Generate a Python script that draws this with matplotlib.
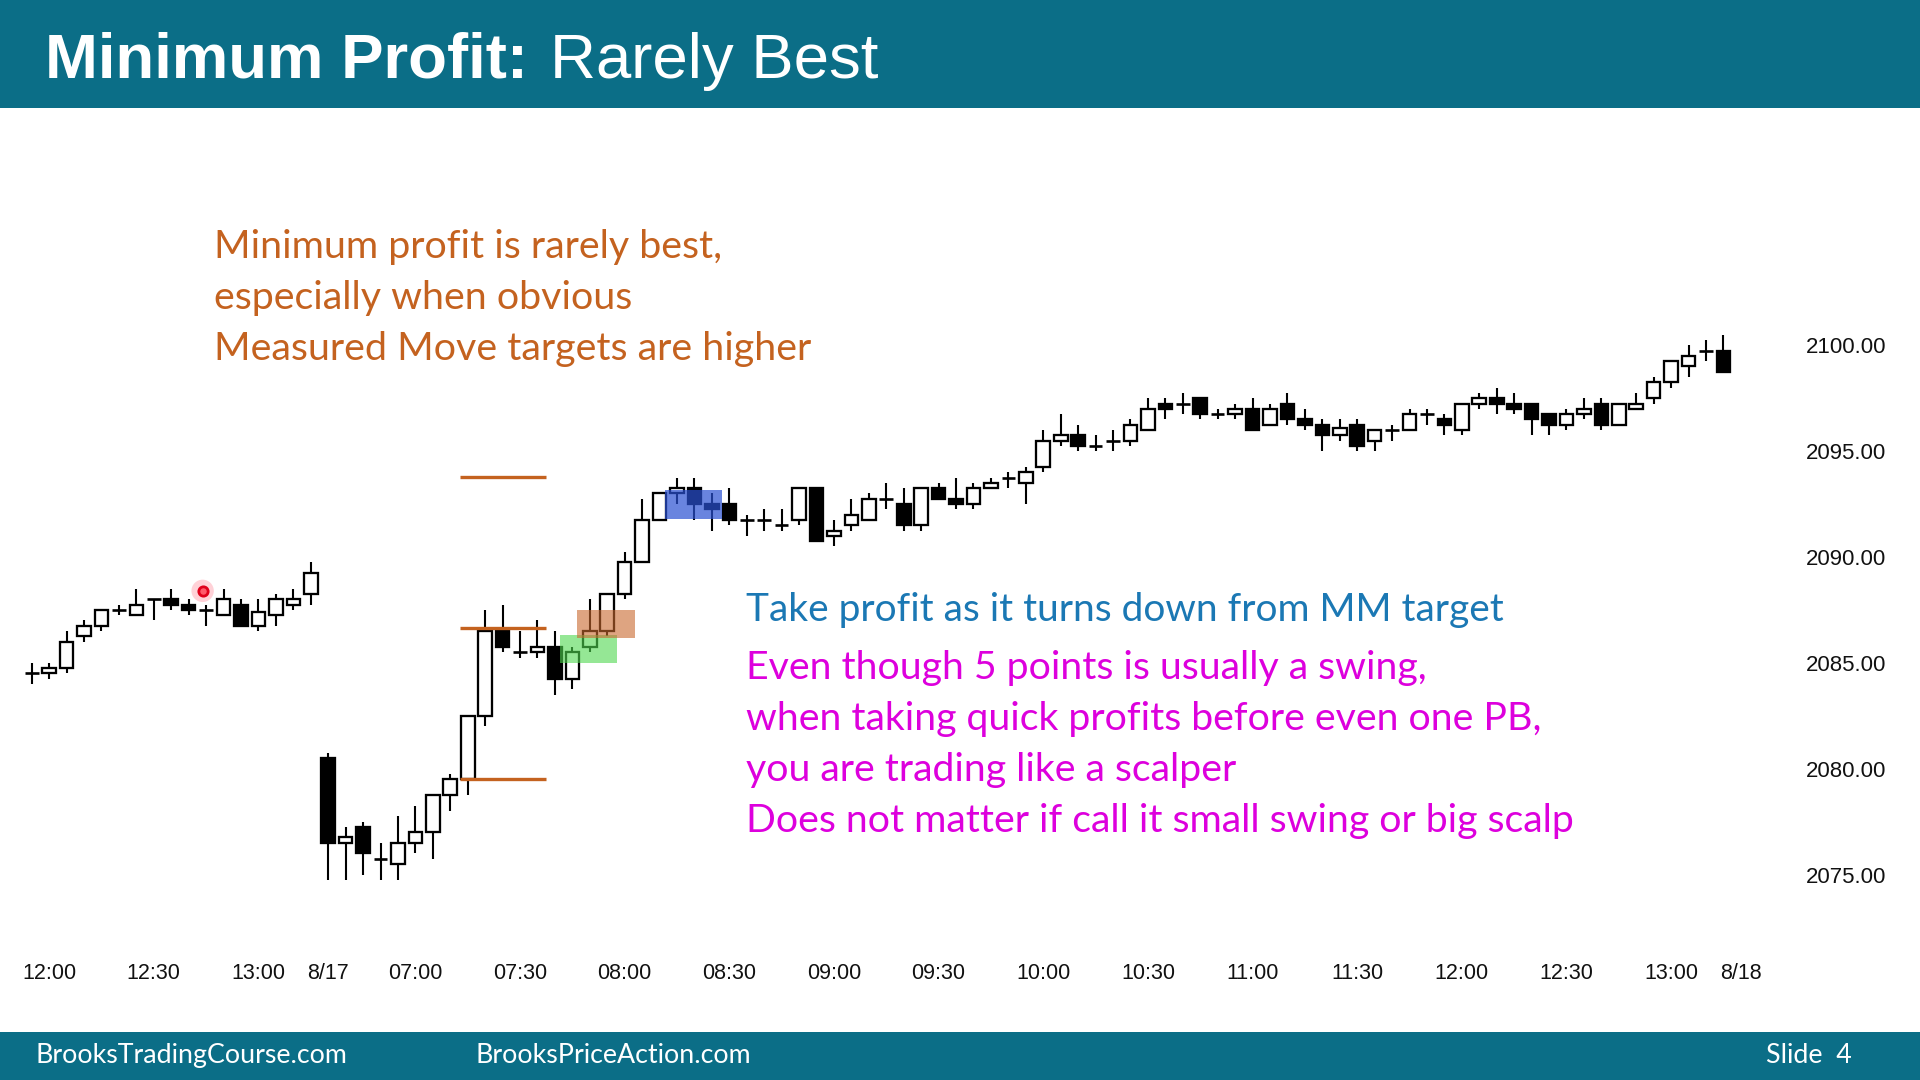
import matplotlib
matplotlib.use("Agg")
import matplotlib.pyplot as plt
from matplotlib.patches import Rectangle

# ---------------- data ----------------
# 5-minute bars: 8/16 11:55-13:15, then 8/17 06:35-13:15 (one slot per bar)
opens = [2084.5, 2084.5, 2084.75, 2086.25, 2086.75, 2087.5, 2087.25, 2088, 2088, 2087.75,
         2087.5, 2087.25, 2087.75, 2086.75, 2087.25, 2087.75, 2088.25,
         2080.5, 2076.5, 2077.25, 2075.75, 2075.5, 2076.5, 2077, 2078.75, 2079.5, 2082.5,
         2086.5, 2085.5, 2085.5, 2085.75, 2084.25, 2085.75, 2086.5, 2088.25, 2089.75, 2091.75,
         2093, 2093.25, 2092.5, 2092.5, 2091.75, 2091.75, 2091.5, 2091.75, 2093.25, 2091,
         2091.5, 2091.75, 2092.75, 2092.5, 2091.5, 2093.25, 2092.75, 2092.5, 2093.25, 2093.75,
         2093.5, 2094.25, 2095.5, 2095.75, 2095.25, 2095.5, 2095.5, 2096, 2097.25, 2097.25,
         2097.5, 2096.75, 2096.75, 2097, 2096.25, 2097.25, 2096.5, 2096.25, 2095.75, 2096.25,
         2095.5, 2096, 2096, 2096.75, 2096.5, 2096, 2097.25, 2097.5, 2097.25, 2097.25,
         2096.75, 2096.25, 2096.75, 2097.25, 2096.25, 2097, 2097.5, 2098.25, 2099, 2099.75,
         2099.75]
highs = [2085, 2085, 2086.5, 2087, 2087.5, 2087.75, 2088.5, 2088, 2088.5, 2088,
         2087.75, 2088.5, 2088, 2088, 2088.25, 2088.5, 2089.75,
         2080.75, 2077.25, 2077.5, 2076.5, 2077.75, 2078.25, 2078.75, 2079.75, 2082.5, 2087.5,
         2087.75, 2086.5, 2087, 2086.5, 2085.75, 2088, 2088.25, 2090.25, 2092.75, 2093,
         2093.75, 2093.75, 2093, 2093.25, 2092, 2092.25, 2092.25, 2093.25, 2093.25, 2091.75,
         2092.75, 2093, 2093.5, 2093.25, 2093.25, 2093.5, 2093.75, 2093.5, 2093.75, 2094,
         2094.25, 2096, 2096.75, 2096.25, 2095.75, 2096, 2096.5, 2097.5, 2097.5, 2097.75,
         2097.5, 2097, 2097.25, 2097.5, 2097.25, 2097.75, 2097, 2096.5, 2096.5, 2096.5,
         2096, 2096.25, 2097, 2097, 2096.75, 2097.25, 2097.75, 2098, 2097.75, 2097.25,
         2096.75, 2097, 2097.5, 2097.5, 2097.25, 2097.75, 2098.5, 2099.25, 2100, 2100.25,
         2100.5]
lows = [2084, 2084.25, 2084.5, 2086, 2086.5, 2087.25, 2087.25, 2087, 2087.5, 2087.25,
        2086.75, 2087.25, 2086.75, 2086.5, 2086.75, 2087.5, 2087.75,
        2074.75, 2074.75, 2075, 2074.75, 2074.75, 2076, 2075.75, 2078, 2078.75, 2082,
        2085.5, 2085.25, 2085.25, 2083.5, 2083.75, 2085.5, 2086.25, 2088, 2089.75, 2091.75,
        2092.5, 2091.75, 2091.25, 2091.5, 2091, 2091.25, 2091.25, 2091.5, 2090.75, 2090.5,
        2091.25, 2091.75, 2092.25, 2091.25, 2091.25, 2092.75, 2092.25, 2092.25, 2093.25, 2093.25,
        2092.5, 2094, 2095.25, 2095, 2095, 2095, 2095.25, 2096, 2096.5, 2096.75,
        2096.5, 2096.5, 2096.5, 2096, 2096.25, 2096.25, 2096, 2095, 2095.5, 2095,
        2095, 2095.5, 2096, 2096.25, 2095.75, 2095.75, 2097, 2096.75, 2096.75, 2095.75,
        2095.75, 2096, 2096.5, 2096, 2096.25, 2097, 2097.25, 2098, 2098.5, 2099.25,
        2098.75]
closes = [2084.5, 2084.75, 2086, 2086.75, 2087.5, 2087.5, 2087.75, 2088, 2087.75, 2087.5,
          2087.5, 2088, 2086.75, 2087.4, 2088, 2088, 2089.25,
          2076.5, 2076.75, 2076, 2075.75, 2076.5, 2077, 2078.75, 2079.5, 2082.5, 2086.5,
          2085.75, 2085.5, 2085.75, 2084.25, 2085.5, 2086.5, 2088.25, 2089.75, 2091.75, 2093,
          2093.25, 2092.5, 2092.25, 2091.75, 2091.75, 2091.75, 2091.5, 2093.25, 2090.75, 2091.25,
          2092, 2092.75, 2092.75, 2091.5, 2093.25, 2092.75, 2092.5, 2093.25, 2093.5, 2093.75,
          2094, 2095.5, 2095.75, 2095.25, 2095.25, 2095.5, 2096.25, 2097, 2097, 2097.25,
          2096.75, 2096.75, 2097, 2096, 2097, 2096.5, 2096.25, 2095.75, 2096.1, 2095.25,
          2096, 2096, 2096.75, 2096.75, 2096.25, 2097.25, 2097.5, 2097.25, 2097, 2096.5,
          2096.25, 2096.75, 2097, 2096.25, 2097.25, 2097.25, 2098.25, 2099.25, 2099.5, 2099.75,
          2098.75]

tick_bars = [1, 7, 13, 17, 22, 28, 34, 40, 46, 52, 58, 64, 70, 76, 82, 88, 94, 98]
tick_labels = ['12:00', '12:30', '13:00', '8/17', '07:00', '07:30', '08:00', '08:30',
               '09:00', '09:30', '10:00', '10:30', '11:00', '11:30', '12:00', '12:30',
               '13:00', '8/18']
price_ticks = [2075, 2080, 2085, 2090, 2095, 2100]
price_labels = ['2075.00', '2080.00', '2085.00', '2090.00', '2095.00', '2100.00']

# measured-move lines (bar range, price levels)
mm_levels = [2079.5, 2086.65, 2093.8]
mm_bar_start, mm_bar_end = 24.55, 29.5

# highlight boxes: bar_start, bar_end, price_low, price_high
green_box = (30.3, 33.55, 2085.0, 2086.32)
orange_box = (31.25, 34.6, 2086.15, 2087.5)
blue_box = (36.3, 39.56, 2091.8, 2093.17)

# red dot annotation
dot_bar, dot_price = 9.8, 2088.4

title_bold = "Minimum Profit:"
title_rest = "Rarely Best"
orange_lines = ["Minimum profit is rarely best,",
                "especially when obvious",
                "Measured Move targets are higher"]
blue_line = "Take profit as it turns down from MM target"
magenta_lines = ["Even though 5 points is usually a swing,",
                 "when taking quick profits before even one PB,",
                 "you are trading like a scalper",
                 "Does not matter if call it small swing or big scalp"]
footer_left = "BrooksTradingCourse.com"
footer_mid = "BrooksPriceAction.com"
footer_right = "Slide  4"

# ---------------- figure ----------------
W, H = 1920, 1080
fig = plt.figure(figsize=(19.2, 10.8), dpi=100)
fig.patch.set_facecolor('white')

TEAL = '#0B6E87'
ORANGE = '#C4621F'
BLUE = '#1B78B4'
MAGENTA = '#DD00DD'
BODY_FONT = ['Lato', 'DejaVu Sans']
ARIAL = ['Liberation Sans', 'DejaVu Sans']

fig.add_artist(Rectangle((0, 1 - 108 / H), 1, 108 / H, transform=fig.transFigure,
                         facecolor=TEAL, edgecolor='none', zorder=0))
fig.add_artist(Rectangle((0, 0), 1, 48 / H, transform=fig.transFigure,
                         facecolor=TEAL, edgecolor='none', zorder=0))

ax = fig.add_axes([0, 48 / H, 1, (1032 - 108) / H])
ax.set_facecolor('none')
ax.set_frame_on(False)
ax.set_xlim(-1.818, 108.27)
ax.set_ylim(2067.56, 2111.21)

# candles
bw = 0.78
for i, (o, h, l, c) in enumerate(zip(opens, highs, lows, closes)):
    ax.plot([i, i], [l, h], color='black', lw=1.5, solid_capstyle='butt', zorder=2)
    if abs(c - o) < 0.1:
        ax.plot([i - bw / 2, i + bw / 2], [o, o], color='black', lw=1.9,
                solid_capstyle='butt', zorder=3)
    else:
        lo, hi = min(o, c), max(o, c)
        fc = 'white' if c > o else 'black'
        ax.add_patch(Rectangle((i - bw / 2, lo), bw, hi - lo, facecolor=fc,
                               edgecolor='black', lw=1.65, zorder=3))

# measured move lines
for lvl in mm_levels:
    ax.plot([mm_bar_start, mm_bar_end], [lvl, lvl], color=ORANGE, lw=2.4,
            solid_capstyle='butt', zorder=4)

# highlight boxes
for (x0, x1, y0, y1), col, a in [(green_box, '#4FD84F', 0.6),
                                 (orange_box, '#C8682E', 0.6),
                                 (blue_box, '#2A50D2', 0.7)]:
    ax.add_patch(Rectangle((x0, y0), x1 - x0, y1 - y0, facecolor=col, alpha=a,
                           edgecolor='none', zorder=5))

# red dot
ax.scatter([dot_bar], [dot_price], s=260, color='#FF9AA8', alpha=0.45, edgecolors='none', zorder=6)
ax.scatter([dot_bar], [dot_price], s=45, facecolor='#FF5A6A', edgecolors='#E0001B',
           linewidths=2.0, zorder=7)

# axes ticks
ax.set_xticks(tick_bars)
ax.set_xticklabels(tick_labels, family=ARIAL, fontsize=15.5, color='#111111')
ax.tick_params(axis='x', length=0, pad=-42)
for lab in ax.get_xticklabels():
    lab.set_verticalalignment('center')

ax.yaxis.tick_right()
ax.set_yticks(price_ticks)
ax.set_yticklabels(price_labels, family=ARIAL, fontsize=16, color='#111111')
ax.tick_params(axis='y', length=0, pad=-24.5)
for lab in ax.get_yticklabels():
    lab.set_horizontalalignment('right')

# ---------------- text ----------------
renderer = fig.canvas.get_renderer()


def fit(t, target_px):
    w = t.get_window_extent(renderer).width
    t.set_fontsize(t.get_fontsize() * target_px / w)
    return t.get_fontsize()


def ftext(xpx, ypx, s, **kw):
    return fig.text(xpx / W, 1 - ypx / H, s, va='baseline', ha='left', **kw)


tb = ftext(45, 78, title_bold, family=ARIAL, fontweight='bold', fontsize=46, color='white')
fs_title = fit(tb, 483)
tr = ftext(550, 78, title_rest, family=ARIAL, fontsize=fs_title, color='white')

o_texts = [ftext(214, y, s, family=BODY_FONT, fontsize=28, color=ORANGE)
           for y, s in zip([258, 309, 360], orange_lines)]
fs_o = fit(o_texts[2], 598)
for t in o_texts:
    t.set_fontsize(fs_o)

bt = ftext(746, 621, blue_line, family=BODY_FONT, fontsize=28, color=BLUE)
fit(bt, 759)

m_texts = [ftext(746, y, s, family=BODY_FONT, fontsize=28, color=MAGENTA)
           for y, s in zip([679, 730, 781, 832], magenta_lines)]
fs_m = fit(m_texts[3], 829)
for t in m_texts:
    t.set_fontsize(fs_m)

f1 = ftext(35, 1063, footer_left, family=BODY_FONT, fontsize=18, color='white')
fs_f = fit(f1, 311)
ftext(475, 1063, footer_mid, family=BODY_FONT, fontsize=fs_f, color='white')
ftext(1766, 1063, footer_right, family=BODY_FONT, fontsize=fs_f, color='white')

fig.savefig('out.png', dpi=100, facecolor='white')
